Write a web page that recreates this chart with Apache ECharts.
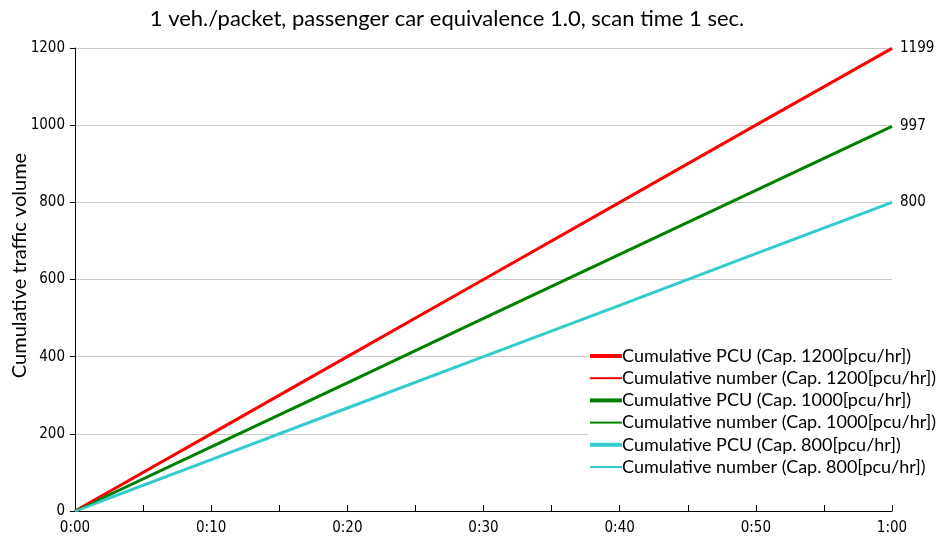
<!DOCTYPE html>
<html><head><meta charset="utf-8">
<script src="https://cdn.jsdelivr.net/npm/echarts@6/dist/echarts.min.js"></script>
<style>html,body{margin:0;padding:0;background:#fff}#c{width:946px;height:545px}</style>
</head><body><div id="c"></div>
<script>
const minutes = [0, 10, 20, 30, 40, 50, 60];
const red1200 = [0, 200, 400, 600, 800, 1000, 1199];
const green1000 = [0, 166, 332, 499, 665, 831, 997];
const cyan800 = [0, 133, 267, 400, 533, 667, 800];
const seriesNames = [
  'Cumulative PCU (Cap. 1200[pcu/hr])',
  'Cumulative number (Cap. 1200[pcu/hr])',
  'Cumulative PCU (Cap. 1000[pcu/hr])',
  'Cumulative number (Cap. 1000[pcu/hr])',
  'Cumulative PCU (Cap. 800[pcu/hr])',
  'Cumulative number (Cap. 800[pcu/hr])'
];
const title = '1 veh./packet, passenger car equivalence 1.0, scan time 1 sec.';
const yName = 'Cumulative traffic volume';

const pts = v => minutes.map((m, i) => [m, v[i]]);
const colors = ['#ff0000', '#ff0000', '#008000', '#008000', '#33cccc', '#33cccc'];
const datas = [red1200, red1200, green1000, green1000, cyan800, cyan800];
const axisFont = '"Liberation Sans Narrow", "DejaVu Sans Condensed", sans-serif';
const textFont = 'Lato, "Open Sans", sans-serif';

const series = seriesNames.map((n, i) => {
  const thick = i % 2 === 0;
  return {
    name: n, type: 'line', data: pts(datas[i]), symbol: 'none',
    z: thick ? 2 : 3,
    lineStyle: { color: colors[i], width: thick ? 3 : 1.5 },
    itemStyle: { color: colors[i] },
    endLabel: thick ? { show: false } : {
      show: true, formatter: p => String(p.value[1]), color: '#000',
      fontFamily: axisFont, fontSize: 15, distance: 8
    }
  };
});

const chart = echarts.init(document.getElementById('c'));
chart.setOption({
  animation: false,
  backgroundColor: '#fff',
  title: { text: title, left: 442, textAlign: 'center', top: 3,
    textStyle: { fontFamily: textFont, fontSize: 22, fontWeight: 'normal', color: '#000' } },
  grid: { left: 75, right: 54, top: 48, bottom: 34, containLabel: false, outerBoundsMode: 'none' },
  legend: {
    orient: 'vertical', left: 588, top: 345, itemWidth: 32, itemHeight: 12, itemGap: 4.2,
    backgroundColor: '#fff', padding: [2, 0, 2, 0],
    itemStyle: { opacity: 0 },
    textStyle: { fontFamily: textFont, fontSize: 18, color: '#000', padding: [0, 0, 0, -5] },
    data: seriesNames.map((n, i) => ({ name: n, lineStyle: { width: i % 2 === 0 ? 4 : 2 } }))
  },
  xAxis: {
    type: 'value', min: 0, max: 60, interval: 10,
    axisLine: { lineStyle: { color: '#000', width: 1 } },
    axisTick: { inside: true, length: 6, lineStyle: { color: '#000' } },
    minorTick: { show: true, splitNumber: 2, length: 6, lineStyle: { color: '#000' } },
    splitLine: { show: false },
    axisLabel: { fontFamily: axisFont, fontSize: 15, color: '#000', margin: 10,
      formatter: v => Math.floor(v / 60) + ':' + String(v % 60).padStart(2, '0') }
  },
  yAxis: {
    type: 'value', min: 0, max: 1200, interval: 200,
    name: yName, nameLocation: 'middle', nameGap: 45, nameMoveOverlap: false,
    nameTextStyle: { fontFamily: textFont, fontSize: 20, color: '#000', padding: [0, 0, 0, 28] },
    axisLine: { show: true, lineStyle: { color: '#000', width: 1 } },
    axisTick: { show: true, length: 5, lineStyle: { color: '#000' } },
    splitLine: { lineStyle: { color: '#c8c8c8', width: 1 } },
    axisLabel: { fontFamily: axisFont, fontSize: 15, color: '#000', margin: 10,
      formatter: v => String(v) }
  },
  series: series
});
</script></body></html>
